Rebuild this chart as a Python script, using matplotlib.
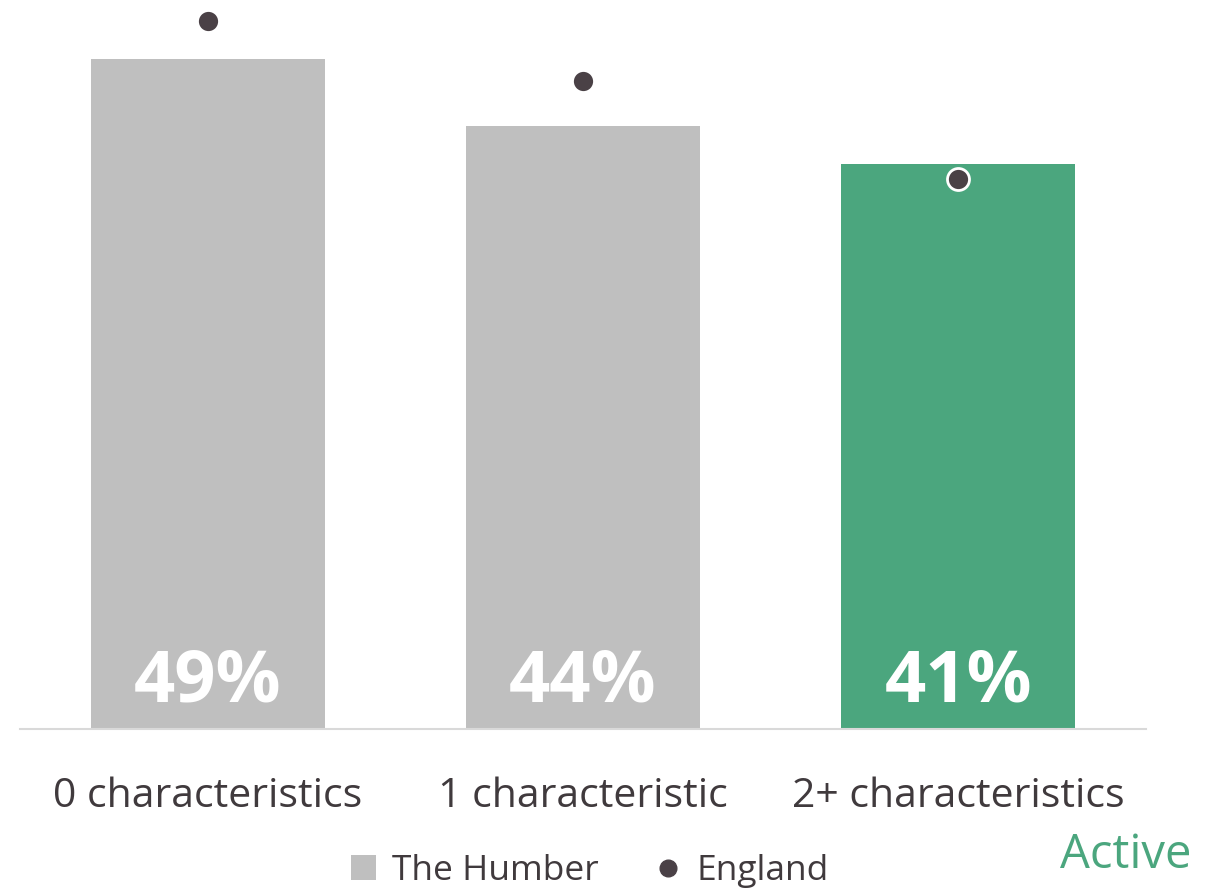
import matplotlib
matplotlib.use("Agg")
import matplotlib.pyplot as plt
from matplotlib.lines import Line2D
from matplotlib.patches import Patch

categories = ["0 characteristics", "1 characteristic", "2+ characteristics"]
humber = [0.49, 0.441, 0.413]
england = [0.518, 0.474, 0.402]
value_labels = ["49%", "44%", "41%"]

GRAY = "#BFBFBF"
GREEN = "#4BA67E"
DOT = "#4A4146"
TEXT = "#403A3D"

plt.rcParams["font.family"] = ["Open Sans", "DejaVu Sans"]

fig = plt.figure(figsize=(12.23, 8.92), dpi=100)
ax = fig.add_axes([20/1223, 1 - 729/892, 1126/1223, 724.5/892])

x = list(range(len(categories)))
colors = [GRAY, GRAY, GREEN]
ax.bar(x, humber, width=0.624, color=colors, zorder=2)
ax.scatter(x, england, s=22**2 * 0.5184, color=DOT, edgecolors="white",
           linewidths=2, zorder=3, clip_on=False)

for xi, lab in zip(x, value_labels):
    ax.text(xi, 0.034, lab, ha="center", va="center", color="white",
            fontsize=52, fontweight="bold", zorder=4)

ax.set_xlim(-0.5, 2.5)
ax.set_ylim(0, 0.53)
ax.set_yticks([])
ax.set_xticks(x)
ax.set_xticklabels(categories, fontsize=29.5, color=TEXT)
ax.tick_params(axis="x", length=0, pad=34)
for s in ["top", "right", "left"]:
    ax.spines[s].set_visible(False)
ax.spines["bottom"].set_color("#D9D9D9")
ax.spines["bottom"].set_linewidth(1.5)

handles = [Patch(facecolor=GRAY, edgecolor="none", label="The Humber"),
           Line2D([], [], marker="o", linestyle="none", markersize=12,
                  markerfacecolor=DOT, markeredgecolor=DOT, label="England")]
fig.legend(handles=handles, loc="center", bbox_to_anchor=(590/1223, 1 - 871/892),
           ncol=2, frameon=False, fontsize=25.5, labelcolor=TEXT,
           handlelength=0.7, handleheight=0.7, handletextpad=0.45, columnspacing=1.6)

fig.text(1192/1223, 1 - 868/892, "Active", ha="right", va="baseline",
         color=GREEN, fontsize=34)

fig.savefig("out.png", dpi=100)
